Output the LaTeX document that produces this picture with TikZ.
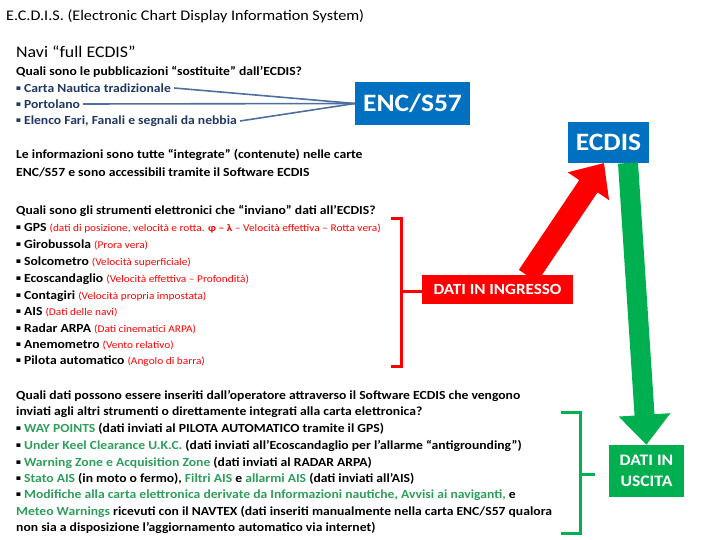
\documentclass[tikz,border=0pt]{standalone}
\usepackage{fontspec}
\setmainfont{Carlito}[FakeStretch=1.1]
\usetikzlibrary{arrows.meta}
\definecolor{bxblue}{HTML}{0070C0}
\definecolor{navy}{HTML}{1F3864}
\definecolor{lnblue}{HTML}{4F6FA0}
\definecolor{gr}{HTML}{00B050}
\definecolor{rd}{HTML}{FF0000}
\definecolor{gt}{HTML}{2E9E5B}
\tikzset{
 txt/.style={anchor=west,inner sep=0pt,font=\fontsize{12.4}{14}\selectfont\bfseries},
 lst/.style={txt,text=navy},
 bbox/.style={fill=bxblue,text=white,font=\bfseries,inner sep=0pt},
}
\newcommand{\rsm}[1]{{\fontsize{10.3}{11}\selectfont\mdseries\color{rd}#1}}
\newcommand{\gb}[1]{{\color{gt}#1}}
\begin{document}
\begin{tikzpicture}[x=1pt,y=-1pt]
\useasboundingbox (0,0) rectangle (720,540);
\node[txt,font=\fontsize{14.7}{16}\selectfont] (t) at (6,16) {E.C.D.I.S. (Electronic Chart Display Information System)};
\node[txt,font=\fontsize{16.2}{18}\selectfont] (n) at (16,52) {Navi “full ECDIS”};
\node[txt] (q1) at (16,72) {Quali sono le pubblicazioni “sostituite” dall’ECDIS?};
\node[lst] (b1) at (16,88) {▪ Carta Nautica tradizionale};
\node[lst] (b2) at (16,104) {▪ Portolano};
\node[lst] (b3) at (16,121) {▪ Elenco Fari, Fanali e segnali da nebbia};
\node[bbox,minimum width=115,minimum height=43,font=\fontsize{25}{27}\selectfont\bfseries] (enc) at (412.5,103.5) {ENC/S57};
\coordinate (cv) at (enc.west);
\foreach \b in {b1,b2,b3} \draw[lnblue,line width=1.6] ([xshift=3]\b.east) -- (cv);
\node[txt] (i1) at (16,155) {Le informazioni sono tutte “integrate” (contenute) nelle carte};
\node[txt] (i2) at (16,172) {ENC/S57 e sono accessibili tramite il Software ECDIS};
\node[bbox,minimum width=81,minimum height=41,font=\fontsize{25}{27}\selectfont\bfseries] (ecdis) at (608.5,142.5) {ECDIS};
\node[txt] (q2) at (16,211) {Quali sono gli strumenti elettronici che “inviano” dati all’ECDIS?};
\node[txt] (s1) at (16,228) {▪ GPS \rsm{(dati di posizione, velocità e rotta. {\bfseries φ – λ} – Velocità effettiva – Rotta vera)}};
\node[txt] (s2) at (16,245) {▪ Girobussola \rsm{(Prora vera)}};
\node[txt] (s3) at (16,262) {▪ Solcometro \rsm{(Velocità superficiale)}};
\node[txt] (s4) at (16,279) {▪ Ecoscandaglio \rsm{(Velocità effettiva – Profondità)}};
\node[txt] (s5) at (16,296) {▪ Contagiri \rsm{(Velocità propria impostata)}};
\node[txt] (s6) at (16,312) {▪ AIS \rsm{(Dati delle navi)}};
\node[txt] (s7) at (16,329) {▪ Radar ARPA \rsm{(Dati cinematici ARPA)}};
\node[txt] (s8) at (16,345) {▪ Anemometro \rsm{(Vento relativo)}};
\node[txt] (s9) at (16,361) {▪ Pilota automatico \rsm{(Angolo di barra)}};
\draw[rd,line width=3] (391,219) -- (401,219) -- (401,366) -- (391,366);
\draw[rd,line width=3] (401,291) -- (422,291);
\node[bbox,fill=rd,minimum width=151,minimum height=29,font=\fontsize{15.5}{17}\selectfont\bfseries] (din) at (497.5,289.5) {DATI IN INGRESSO};
\draw[rd,line width=22,-{Triangle[length=28,width=48]}] (528,276) -- (604,163);
\node[txt] (d1) at (16,396) {Quali dati possono essere inseriti dall’operatore attraverso il Software ECDIS che vengono};
\node[txt] (d2) at (16,412) {inviati agli altri strumenti o direttamente integrati alla carta elettronica?};
\node[txt] (d3) at (16,429) {▪ \gb{WAY POINTS} (dati inviati al PILOTA AUTOMATICO tramite il GPS)};
\node[txt] (d4) at (16,446) {▪ \gb{Under Keel Clearance U.K.C.} (dati inviati all’Ecoscandaglio per l’allarme “antigrounding”)};
\node[txt] (d5) at (16,463) {▪ \gb{Warning Zone e Acquisition Zone} (dati inviati al RADAR ARPA)};
\node[txt] (d6) at (16,479) {▪ \gb{Stato AIS} (in moto o fermo), \gb{Filtri AIS} e \gb{allarmi AIS} (dati inviati all’AIS)};
\node[txt] (d7) at (16,495) {▪ \gb{Modifiche alla carta elettronica derivate da Informazioni nautiche, Avvisi ai naviganti,} e};
\node[txt] (d8) at (16,512) {\gb{Meteo Warnings} ricevuti con il NAVTEX (dati inseriti manualmente nella carta ENC/S57 qualora};
\node[txt] (d9) at (16,528) {non sia a disposizione l’aggiornamento automatico via internet)};
\draw[gr,line width=3] (561,412) -- (580,412) -- (580,533) -- (561,533);
\draw[gr,line width=3] (580,474) -- (595,474);
\node[bbox,fill=gr,minimum width=75,minimum height=52,align=center,font=\fontsize{16}{21}\selectfont\bfseries] (dout) at (646.5,471) {DATI IN\\USCITA};
\draw[gr,line width=20,-{Triangle[length=30,width=50]}] (628,163) -- (dout.north);
\end{tikzpicture}
\end{document}
